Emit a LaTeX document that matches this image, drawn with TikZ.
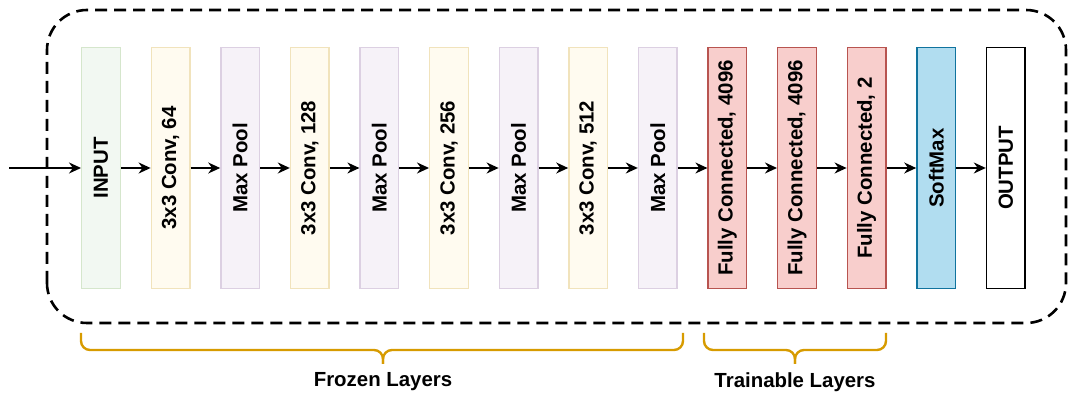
\documentclass[tikz,border=0pt]{standalone}
\usepackage{fontspec}
\setmainfont{Liberation Sans}
\usetikzlibrary{arrows.meta, positioning}
\definecolor{cinfill}{HTML}{F2F8F2}
\definecolor{cinline}{HTML}{D5E6CC}
\definecolor{cconvfill}{HTML}{FFFBF0}
\definecolor{cconvline}{HTML}{F1E3BC}
\definecolor{cpoolfill}{HTML}{F6F2F8}
\definecolor{cpoolline}{HTML}{DCD0E2}
\definecolor{cfcfill}{HTML}{F8CECC}
\definecolor{cfcline}{HTML}{B85450}
\definecolor{csmfill}{HTML}{B1DDF0}
\definecolor{csmline}{HTML}{10739E}
\definecolor{cbrace}{HTML}{D79B00}

\begin{document}
\begin{tikzpicture}[
  x=1pt, y=1pt,
  font=\fontsize{20.4}{24}\selectfont\bfseries,
  >={Stealth[length=12pt, width=11pt]},
  node distance=29.6pt,
  layer/.style={draw, line width=1.4pt, minimum width=38.6pt,
                minimum height=240.6pt, inner sep=0pt},
  inlayer/.style={layer, fill=cinfill, draw=cinline},
  convlayer/.style={layer, fill=cconvfill, draw=cconvline},
  poollayer/.style={layer, fill=cpoolfill, draw=cpoolline},
  fclayer/.style={layer, fill=cfcfill, draw=cfcline},
  smlayer/.style={layer, fill=csmfill, draw=csmline},
  outlayer/.style={layer, fill=white, draw=black},
  arr/.style={->, line width=1.5pt},
  dashbox/.style={draw, line width=2.6pt, dash pattern=on 12pt off 7pt,
                  rounded corners=40pt},
  brace/.style={draw=cbrace, line width=2.4pt, rounded corners=9pt},
  ]
\useasboundingbox (0,0) rectangle (1069,396);

% frame round the network
\draw[dashbox] (47,73) rectangle (1066,386);

\node[inlayer] (in) at (101,228) {\rotatebox{90}{INPUT}};
\node[convlayer, right=of in] (conv1) {\rotatebox{90}{3x3 Conv, 64}};
\node[poollayer, right=of conv1] (pool1) {\rotatebox{90}{Max Pool}};
\node[convlayer, right=of pool1] (conv2) {\rotatebox{90}{3x3 Conv, 128}};
\node[poollayer, right=of conv2] (pool2) {\rotatebox{90}{Max Pool}};
\node[convlayer, right=of pool2] (conv3) {\rotatebox{90}{3x3 Conv, 256}};
\node[poollayer, right=of conv3] (pool3) {\rotatebox{90}{Max Pool}};
\node[convlayer, right=of pool3] (conv4) {\rotatebox{90}{3x3 Conv, 512}};
\node[poollayer, right=of conv4] (pool4) {\rotatebox{90}{Max Pool}};
\node[fclayer, right=of pool4] (fc1) {\rotatebox{90}{Fully Connected, 4096}};
\node[fclayer, right=of fc1] (fc2) {\rotatebox{90}{Fully Connected, 4096}};
\node[fclayer, right=of fc2] (fc3) {\rotatebox{90}{Fully Connected, 2}};
\node[smlayer, right=of fc3] (sm) {\rotatebox{90}{SoftMax}};
\node[outlayer, right=of sm] (out) {\rotatebox{90}{OUTPUT}};

\coordinate (start) at (9,228);
\draw[arr] (start) -- (in);
\foreach \a/\b in {in/conv1, conv1/pool1, pool1/conv2, conv2/pool2,
                   pool2/conv3, conv3/pool3, pool3/conv4, conv4/pool4,
                   pool4/fc1, fc1/fc2, fc2/fc3, fc3/sm, sm/out}
  \draw[arr] (\a) -- (\b);

% braces under the layer groups
\draw[brace] (81,63) |- (383,46) -- (383,32);
\draw[brace] (683,63) |- (383,46) -- (383,32);
\draw[brace] (704,63) |- (795,46) -- (795,32);
\draw[brace] (886,63) |- (795,46) -- (795,32);

\node (frozen) at (383,14) {Frozen Layers};
\node (trainable) at (795,14) {Trainable Layers};
\end{tikzpicture}
\end{document}
